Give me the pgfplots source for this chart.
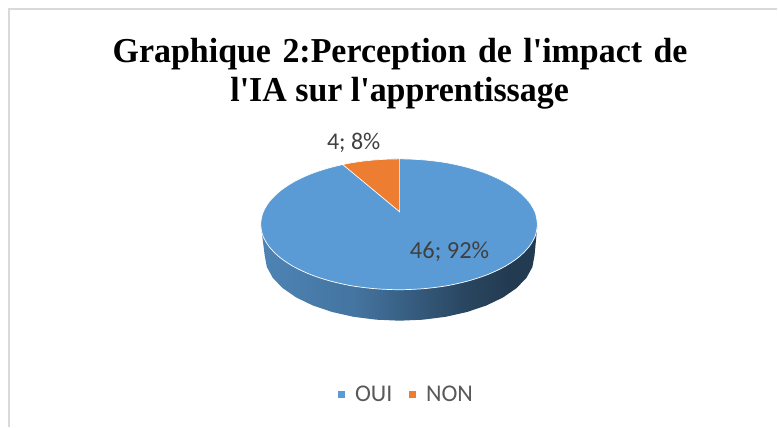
\documentclass[border=0pt]{standalone}
\usepackage{pgfplots}
\pgfplotsset{compat=1.18}
\usepackage{fontspec}
\setmainfont[Ligatures=TeXOff]{Liberation Serif}
\newfontfamily\labelfont{Carlito}
\newfontfamily\titlefont[Ligatures=TeXOff,FakeStretch=0.97]{Liberation Serif Bold}
\definecolor{pieblue}{HTML}{5B9BD5}
\definecolor{pieorange}{HTML}{ED7D31}
\definecolor{labelgray}{HTML}{404040}
\definecolor{legendgray}{HTML}{595959}
\definecolor{framegray}{HTML}{D9D9D9}
\pgfdeclarehorizontalshading{pieside}{100bp}{
  color(0bp)=(pieblue!85!black);
  color(25bp)=(pieblue!85!black);
  color(42bp)=(pieblue!75!black);
  color(62bp)=(pieblue!45!black);
  color(70bp)=(pieblue!38!black);
  color(100bp)=(pieblue!38!black)}
\begin{document}
\begin{tikzpicture}
\begin{axis}[
  scale only axis, width=778pt, height=427pt,
  xmin=0, xmax=778, ymin=0, ymax=427,
  hide axis, clip=false,
  legend columns=2,
  legend style={draw=none, fill=none, at={(axis cs:406.5,32)}, anchor=center,
    font=\labelfont\fontsize{24}{26}\selectfont\color{legendgray},
    /tikz/every even column/.style={column sep=14pt}},
  legend image code/.code={\fill[#1] (0pt,-4pt) rectangle (8pt,4pt); \path (0pt,0pt) (15pt,0pt);},
]
% keeps the page at the full chart size
\addplot[forget plot, draw=none] coordinates {(0,0) (778,427)};
% chart frame
\addplot[forget plot, draw=framegray, line width=1.5pt] coordinates {(778,418) (9,418) (9,0)};
% side of the pie
\addplot[forget plot, draw=none, shading=pieside] coordinates {
(538,202.5) (535,171) (532.9,159.7) (526.9,148.8) (516.9,138.5) (503.4,129.2)
(486.8,121.2) (467.5,114.7) (446.2,109.9) (423.4,107) (400,106) (376.6,107)
(353.8,109.9) (332.5,114.7) (313.2,121.2) (296.6,129.2) (283.1,138.5) (273.1,148.8)
(267.1,159.7) (265,171) (261,202.5)} -- cycle;
% top of the pie
\addplot[fill=pieblue, draw=white, line width=0.7pt, smooth] coordinates {
(538,202.5) (535.9,213.9) (529.6,224.9) (519.4,235.25) (505.6,244.6) (488.5,252.7)
(468.75,259.2) (446.9,264.1) (423.5,267) (399.5,268) (375.5,267) (352.1,264.1)
(330.25,259.2) (310.5,252.7) (293.4,244.6) (279.6,235.25) (269.4,224.9) (263.1,213.9)
(261,202.5) (263.1,191.1) (269.4,180.1) (279.6,169.75) (293.4,160.4) (310.5,152.3)
(330.25,145.8) (352.1,140.9) (375.5,138) (399.5,137) (423.5,138) (446.9,140.9)
(468.75,145.8) (488.5,152.3) (505.6,160.4) (519.4,169.75) (529.6,180.1) (535.9,191.1)
(538,202.5)};
\addlegendentry{OUI}
\addplot[fill=pieorange, draw=white, line width=0.7pt] coordinates {
(400,215) (400,268) (387.5,267.7) (375.5,267) (363.5,265.8) (352.1,264.1) (343,262.3)} -- cycle;
\addlegendentry{NON}
% title and data labels
\node[anchor=base, font=\titlefont\fontsize{35}{41}\selectfont, text=black] at (axis cs:400.5,364.5)
  {\spaceskip=11.5pt Graphique 2:Perception de l'impact de};
\node[anchor=base, font=\titlefont\fontsize{35}{41}\selectfont, text=black] at (axis cs:400,325.3)
  {l'IA sur l'apprentissage};
\node[font=\labelfont\fontsize{24}{26}\selectfont, text=labelgray] at (axis cs:354,284.5) {4; 8\%};
\node[font=\labelfont\fontsize{24.5}{26}\selectfont, text=labelgray] at (axis cs:450,175.5) {46; 92\%};
\end{axis}
\end{tikzpicture}
\end{document}
